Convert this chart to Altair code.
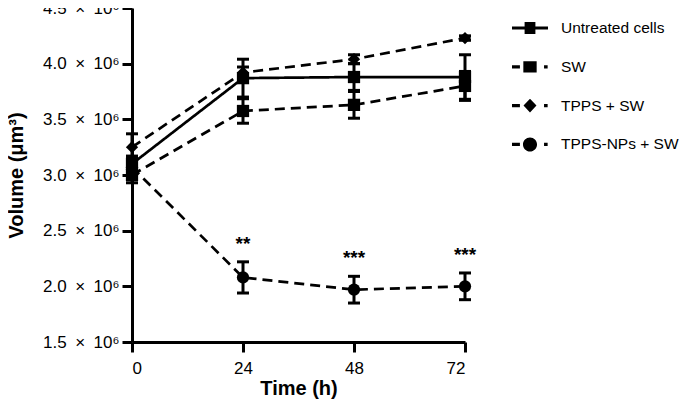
import altair as alt
import pandas as pd

series = ["Untreated cells", "SW", "TPPS + SW", "TPPS-NPs + SW"]
times = [0, 24, 48, 72]
untreated = [3.10e6, 3.87e6, 3.88e6, 3.88e6]
untreated_err = [0.07e6, 0.17e6, 0.12e6, 0.20e6]
sw = [3.00e6, 3.575e6, 3.63e6, 3.80e6]
sw_err = [0.07e6, 0.11e6, 0.12e6, 0.13e6]
tpps = [3.25e6, 3.92e6, 4.04e6, 4.23e6]
tpps_err = [0.12e6, 0.05e6, 0.04e6, 0.02e6]
nps = [3.07e6, 2.08e6, 1.97e6, 2.00e6]
nps_err = [0.08e6, 0.14e6, 0.12e6, 0.12e6]
sig_times = [24, 48, 72]
sig_labels = ["**", "***", "***"]
y_ticks = [1.5e6, 2.0e6, 2.5e6, 3.0e6, 3.5e6, 4.0e6, 4.5e6]

marker_shapes = ["square", "square", "diamond", "circle"]
marker_sizes = [150, 150, 170, 200]
dashes = [[1, 0], [10, 6], [10, 6], [10, 6]]
legend_paths = [
    "M-1,-0.09H1V0.09H-1Z M-0.3,-0.33H0.3V0.33H-0.3Z",
    "M-1,-0.09H-0.56V0.09H-1Z M-0.37,-0.31H0.37V0.31H-0.37Z M0.78,-0.09H0.98V0.09H0.78Z",
    "M-1,-0.09H-0.56V0.09H-1Z M0,-0.38L0.36,0L0,0.38L-0.36,0Z M0.78,-0.09H0.98V0.09H0.78Z",
    "M-1,-0.09H-0.56V0.09H-1Z M0.39,0A0.39,0.39,0,1,1,-0.39,0A0.39,0.39,0,1,1,0.39,0Z M0.78,-0.09H0.98V0.09H0.78Z",
]

rows = []
for name, vals, errs in [(series[0], untreated, untreated_err), (series[1], sw, sw_err),
                         (series[2], tpps, tpps_err), (series[3], nps, nps_err)]:
    for t, v, e in zip(times, vals, errs):
        rows.append({"series": name, "leg": name, "time": t, "volume": v, "lo": v - e, "hi": v + e})
df = pd.DataFrame(rows)

sig = pd.DataFrame({"time": sig_times, "label": sig_labels,
                    "y": [nps[times.index(t)] + nps_err[times.index(t)] for t in sig_times]})

FONT = "Liberation Sans"

x_enc = alt.X("time:Q", scale=alt.Scale(domain=[0, 72], nice=False, zero=False),
              axis=alt.Axis(values=times, title="Time (h)", format="d",
                            labelFont=FONT, labelFontSize=17, labelColor="black",
                            labelPadding=8, titlePadding=2,
                            titleFont=FONT, titleFontSize=20, titleFontWeight="bold",
                            titleColor="black"))
y_scale = alt.Scale(domain=[1.5e6, 4.5e6], nice=False, zero=False)
y_enc = alt.Y("volume:Q", scale=y_scale,
              axis=alt.Axis(values=y_ticks,
                            labelExpr="format(datum.value/1e6,'.1f') + '\u2002×\u200210⁶'",
                            title="Volume (μm³)",
                            labelFont=FONT, labelFontSize=17, labelColor="black",
                            labelPadding=3, titlePadding=16,
                            titleFont=FONT, titleFontSize=20, titleFontWeight="bold",
                            titleColor="black"))

base = alt.Chart(df)

lines = base.mark_line(color="black", strokeWidth=2.7, opacity=1).encode(
    x=x_enc, y=y_enc,
    strokeDash=alt.StrokeDash("series:N", scale=alt.Scale(domain=series, range=dashes), legend=None),
    detail="series:N",
)

rules = base.mark_rule(color="black", strokeWidth=3, opacity=1).encode(
    x="time:Q", y=alt.Y("lo:Q", scale=y_scale), y2="hi:Q")
cap_lo = base.mark_tick(color="black", orient="horizontal", size=12, thickness=3, opacity=1).encode(
    x="time:Q", y=alt.Y("lo:Q", scale=y_scale))
cap_hi = base.mark_tick(color="black", orient="horizontal", size=12, thickness=3, opacity=1).encode(
    x="time:Q", y=alt.Y("hi:Q", scale=y_scale))

points = base.mark_point(filled=True, color="black", opacity=1).encode(
    x="time:Q", y=alt.Y("volume:Q", scale=y_scale),
    shape=alt.Shape("series:N", scale=alt.Scale(domain=series, range=marker_shapes), legend=None),
    size=alt.Size("series:N", scale=alt.Scale(domain=series, range=marker_sizes), legend=None),
)

legend_layer = base.mark_point(filled=True, color="black", opacity=0).encode(
    x="time:Q", y=alt.Y("volume:Q", scale=y_scale),
    shape=alt.Shape("leg:N", scale=alt.Scale(domain=series, range=legend_paths),
                    legend=alt.Legend(title=None, orient="none", legendX=380, legendY=2,
                                      symbolSize=1296, symbolFillColor="black",
                                      symbolStrokeWidth=0, symbolOpacity=1,
                                      labelFontSize=15.5, labelFont=FONT, labelColor="black",
                                      labelOffset=13, rowPadding=11.8, padding=0,
                                      labelLimit=300)),
)

stars = alt.Chart(sig).mark_text(font=FONT, fontSize=19, fontWeight="bold", color="black",
                                 baseline="middle", dy=-18).encode(
    x="time:Q", y=alt.Y("y:Q", scale=y_scale), text="label:N")

chart = alt.layer(lines, rules, cap_lo, cap_hi, points, legend_layer, stars).resolve_scale(
    shape="independent", size="independent").properties(
    width=333, height=334,
    autosize=alt.AutoSizeParams(type="none"),
    padding={"left": 124, "top": 0, "right": 214, "bottom": 57},
).configure_view(stroke=None).configure_axis(
    grid=False, domainColor="black", domainWidth=3, tickColor="black", tickWidth=3,
    tickSize=10,
)

chart.save("out.html", embed_options={"renderer": "svg", "actions": False})
